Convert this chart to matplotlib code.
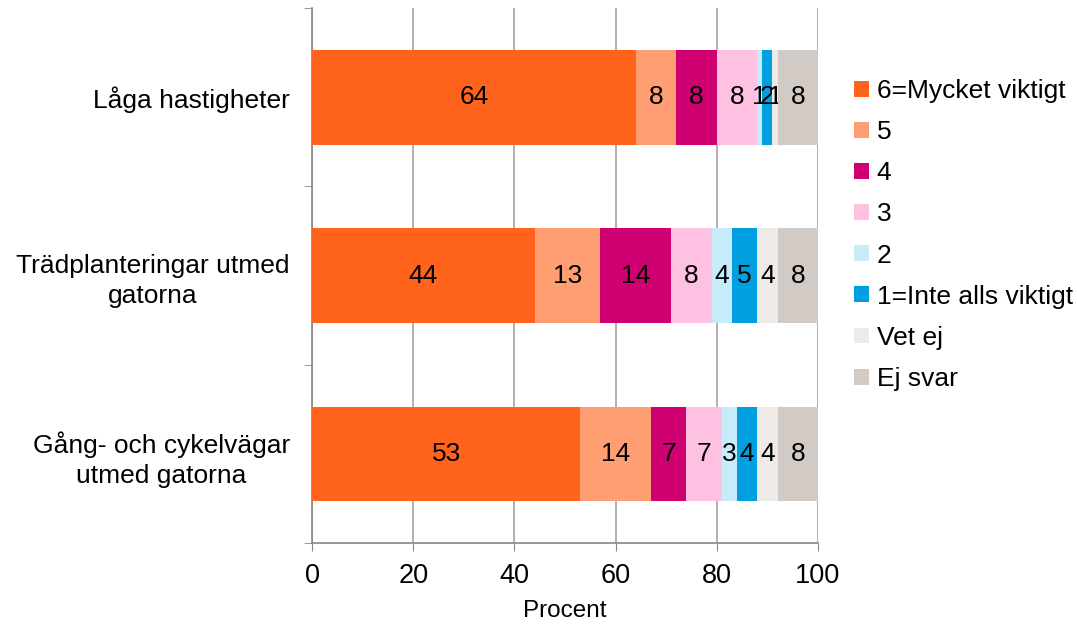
import matplotlib.pyplot as plt
import numpy as np

plt.rcParams['font.family'] = ['Liberation Sans', 'DejaVu Sans']

categories = ['Låga hastigheter', 'Trädplanteringar utmed\ngatorna', 'Gång- och cykelvägar\nutmed gatorna']
series = ['6=Mycket viktigt', '5', '4', '3', '2', '1=Inte alls viktigt', 'Vet ej', 'Ej svar']
values = [
    [64, 44, 53],
    [8, 13, 14],
    [8, 14, 7],
    [8, 8, 7],
    [1, 4, 3],
    [2, 5, 4],
    [1, 4, 4],
    [8, 8, 8],
]
colors = ['#FF631C', '#FF9E73', '#CF0072', '#FFC1E2', '#C6ECFB', '#009FDF', '#EEEAE7', '#D2CAC4']

fig = plt.figure(figsize=(10.77, 6.25), dpi=100)
ax = fig.add_axes([0.2897, 0.131, 0.4698, 0.856])

y = np.arange(len(categories))
left = np.zeros(len(categories))
for name, vals, c in zip(series, values, colors):
    vals = np.array(vals, dtype=float)
    bars = ax.barh(y, vals, left=left, height=0.53, color=c, label=name, zorder=3)
    ax.bar_label(bars, labels=[str(int(v)) for v in vals], label_type='center', fontsize=19)
    left += vals

ax.set_xlim(0, 100)
ax.set_ylim(len(categories) - 0.5, -0.5)
ax.set_xticks(range(0, 101, 20))
ax.tick_params(axis='x', labelsize=19.5, length=6, color='#888888', pad=8)
ax.set_yticks(y)
ax.set_yticklabels(categories, fontsize=19, linespacing=1.3, multialignment='center')
ax.tick_params(axis='y', which='major', length=0, pad=16)
ax.set_yticks(np.arange(-0.5, len(categories), 1), minor=True)
ax.tick_params(axis='y', which='minor', length=6, color='#888888')
ax.grid(axis='x', color='#A39A92', linewidth=1.1, zorder=0)
for s in ['top', 'right']:
    ax.spines[s].set_visible(False)
for s in ['left', 'bottom']:
    ax.spines[s].set_color('#888888')
    ax.spines[s].set_linewidth(1.2)
ax.set_xlabel('Procent', fontsize=17.5, labelpad=8)

fig.legend(loc='center left', bbox_to_anchor=(0.771, 0.624), frameon=False, fontsize=19,
           handlelength=0.55, handleheight=0.55, handletextpad=0.3, labelspacing=0.65)

fig.savefig('out.png', dpi=100)
